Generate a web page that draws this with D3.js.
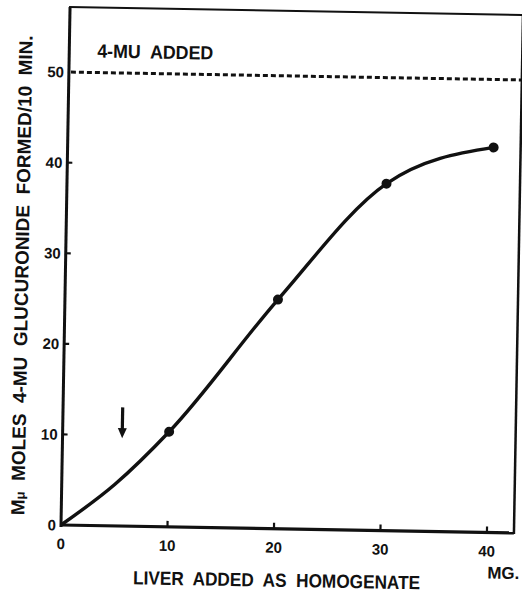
<!DOCTYPE html>
<html>
<head>
    <meta charset="utf-8">
    <title>4-MU glucuronide formed vs liver added</title>
    <script src="https://cdn.jsdelivr.net/npm/d3@7"></script>
    <style>
        body { margin: 0; background: #fff; }
        text { font-family: "Liberation Sans", Arial, sans-serif; fill: #111; white-space: pre; }
    </style>
</head>
<body>
<script>
    var w = 522;
    var h = 595;

    // values read off the scan (x = 5 is read from the drawn curve, no dot there)
    var liverMg = [0, 5, 10, 20, 30, 40];
    var glucuronide = [0, 4.6, 10.5, 25.3, 38.3, 42.5];
    var dotIndex = [2, 3, 4, 5];          // points drawn with a dot
    var xTicks = [0, 10, 20, 30, 40];
    var yTicks = [0, 10, 20, 30, 40, 50];
    var addedLevel = 50;                  // "4-MU ADDED" line
    var arrowMg = 5.6;
    var arrowFrom = 13.1, arrowTo = 9.7;

    var svg = d3.select("body").append("svg")
        .attr("width", w)
        .attr("height", h);

    // the scan is tilted about one degree clockwise
    var g = svg.append("g")
        .attr("transform", "translate(61,525) rotate(1)");

    var x = d3.scaleLinear().domain([0, 40]).range([0, 426]);
    var y = d3.scaleLinear().domain([0, 50]).range([0, -453]);
    var frameW = 453, frameH = 518;

    // frame
    g.append("line").attr("x1", 0).attr("y1", 2).attr("x2", 0).attr("y2", -frameH)
        .attr("stroke", "#111").attr("stroke-width", 3);
    g.append("line").attr("x1", 0).attr("y1", 0).attr("x2", frameW).attr("y2", 0)
        .attr("stroke", "#111").attr("stroke-width", 3.2);
    g.append("line").attr("x1", -1).attr("y1", -frameH).attr("x2", frameW).attr("y2", -frameH)
        .attr("stroke", "#111").attr("stroke-width", 2);
    g.append("line").attr("x1", frameW).attr("y1", -frameH - 1).attr("x2", frameW).attr("y2", 1)
        .attr("stroke", "#111").attr("stroke-width", 2.5);

    // x ticks + labels
    g.selectAll(".xt").data(xTicks.filter(function(d) { return d > 0; }))
        .enter().append("line")
        .attr("x1", function(d) { return x(d); }).attr("x2", function(d) { return x(d); })
        .attr("y1", 0).attr("y2", -6)
        .attr("stroke", "#111").attr("stroke-width", 2.2);
    g.selectAll(".xl").data(xTicks).enter().append("text")
        .attr("x", function(d) { return x(d); })
        .attr("y", 24)
        .attr("text-anchor", "middle")
        .attr("font-size", 15)
        .attr("font-weight", "bold")
        .text(function(d) { return d; });

    // y ticks + labels
    g.selectAll(".yt").data(yTicks.filter(function(d) { return d > 0 && d < 50; }))
        .enter().append("line")
        .attr("x1", 0).attr("x2", 5)
        .attr("y1", function(d) { return y(d); }).attr("y2", function(d) { return y(d); })
        .attr("stroke", "#111").attr("stroke-width", 2.2);
    g.selectAll(".yl").data(yTicks).enter().append("text")
        .attr("x", -5)
        .attr("y", function(d) { return y(d); })
        .attr("dy", "0.36em")
        .attr("text-anchor", "end")
        .attr("font-size", 15)
        .attr("font-weight", "bold")
        .text(function(d) { return d; });

    // dashed 4-MU added line
    g.append("line")
        .attr("x1", 2).attr("x2", frameW)
        .attr("y1", y(addedLevel)).attr("y2", y(addedLevel))
        .attr("stroke", "#111").attr("stroke-width", 3)
        .attr("stroke-dasharray", "5,3");
    g.append("text")
        .attr("x", 28).attr("y", -468)
        .attr("font-size", 19)
        .attr("font-weight", "bold")
        .attr("textLength", 116).attr("lengthAdjust", "spacingAndGlyphs")
        .text("4-MU  ADDED");

    // curve
    var pts = liverMg.map(function(d, i) { return [d, glucuronide[i]]; });
    var line = d3.line()
        .x(function(d) { return x(d[0]); })
        .y(function(d) { return y(d[1]); })
        .curve(d3.curveMonotoneX);
    g.append("path").datum(pts)
        .attr("d", line)
        .attr("fill", "none")
        .attr("stroke", "#111")
        .attr("stroke-width", 3.4);

    g.selectAll("circle").data(dotIndex).enter().append("circle")
        .attr("cx", function(i) { return x(liverMg[i]); })
        .attr("cy", function(i) { return y(glucuronide[i]); })
        .attr("r", 5)
        .attr("fill", "#111");

    // arrow
    var ax = x(arrowMg);
    g.append("line")
        .attr("x1", ax).attr("x2", ax)
        .attr("y1", y(arrowFrom)).attr("y2", y(arrowTo) - 8)
        .attr("stroke", "#111").attr("stroke-width", 3.2);
    g.append("path")
        .attr("d", "M" + (ax - 4.5) + "," + (y(arrowTo) - 10) + "L" + (ax + 4.5) + "," + (y(arrowTo) - 10) +
                   "L" + ax + "," + y(arrowTo) + "Z")
        .attr("fill", "#111");

    // axis titles
    var yTitle = g.append("text")
        .attr("transform", "translate(-37,-249) rotate(-90)")
        .attr("text-anchor", "middle")
        .attr("font-size", 19)
        .attr("font-weight", "bold")
        .attr("textLength", 480).attr("lengthAdjust", "spacingAndGlyphs");
    yTitle.append("tspan").text("M");
    yTitle.append("tspan").attr("font-size", 13).text("\u03bc");
    yTitle.append("tspan").text("  MOLES  4-MU  GLUCURONIDE  FORMED/10  MIN.");

    g.append("text")
        .attr("x", 73).attr("y", 58)
        .attr("font-size", 19)
        .attr("font-weight", "bold")
        .attr("textLength", 287).attr("lengthAdjust", "spacingAndGlyphs")
        .text("LIVER  ADDED  AS  HOMOGENATE");

    g.append("text")
        .attr("x", 427).attr("y", 46)
        .attr("font-size", 17)
        .attr("font-weight", "bold")
        .text("MG.");
</script>
</body>
</html>
